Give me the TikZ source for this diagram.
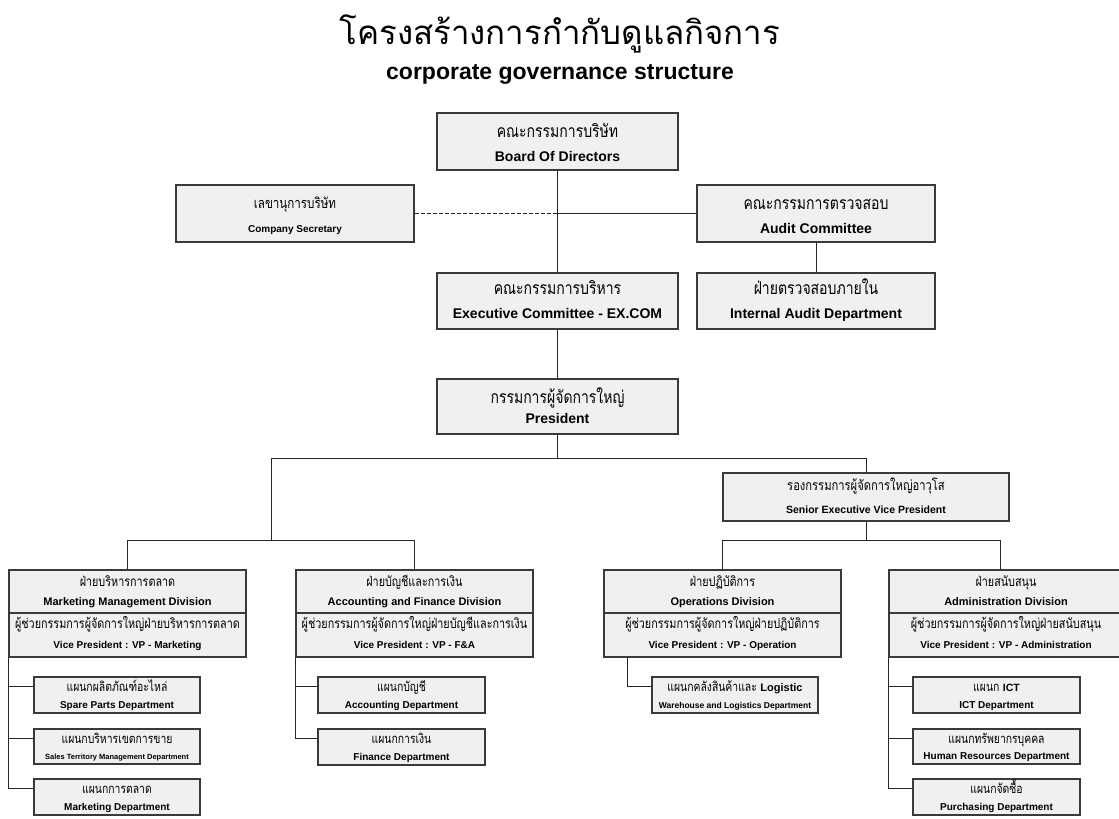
\documentclass[tikz,border=0pt]{standalone}
\usepackage{fontspec}
\setmainfont{Liberation Sans}
\newfontfamily\thaifont[Script=Thai,FakeStretch=0.8]{Loma}
\newfontfamily\thaititle[Script=Thai]{Loma}
\usetikzlibrary{calc}
\definecolor{boxfill}{HTML}{F0F0F0}
\definecolor{boxline}{HTML}{3A3A3A}
\newcommand\thx[1]{\thaifont\fontsize{#1}{#1}\selectfont}
\newcommand\enx[1]{\normalfont\bfseries\fontsize{#1}{#1}\selectfont}
% box text: node name, thai baseline offset, thai text, english baseline offset, english text
\newcommand\boxtext[5]{%
  \node[anchor=base, inner sep=0pt] (#1-th) at ($(#1.center)+(0,#2)$) {#3};
  \node[anchor=base, inner sep=0pt] (#1-en) at ($(#1.center)+(0,#4)$) {#5};}
\tikzset{
  orgbox/.style={draw=boxline, fill=boxfill, line width=1.4pt, inner sep=0pt, anchor=center},
  link/.style={draw=black!85, line width=1pt},
}
\begin{document}
\begin{tikzpicture}[x=1pt,y=-1pt]
\useasboundingbox (0,0) rectangle (1119,819);
% titles
\node[anchor=base, inner sep=0pt] (t1) at (560,44) {\thaititle\fontsize{33}{33}\selectfont โครงสร้างการกำกับดูแลกิจการ};
\node[anchor=base, inner sep=0pt] (t2) at (560,79) {\enx{23}corporate governance structure};
% top level
\node[orgbox, minimum width=241, minimum height=57] (board) at (557.5,141.5) {};
\boxtext{board}{-4.5}{\thx{17.5}คณะกรรมการบริษัท}{19.5}{\enx{14}Board Of Directors}
\node[orgbox, minimum width=238, minimum height=57] (sec) at (295,213.5) {};
\boxtext{sec}{-5}{\thx{14.5}เลขานุการบริษัท}{18.5}{\enx{10}Company Secretary}
\node[orgbox, minimum width=238, minimum height=57] (audit) at (816,213.5) {};
\boxtext{audit}{-4.5}{\thx{17.5}คณะกรรมการตรวจสอบ}{19.5}{\enx{14}Audit Committee}
\node[orgbox, minimum width=241, minimum height=56] (exec) at (557.5,301) {};
\boxtext{exec}{-7}{\thx{17.5}คณะกรรมการบริหาร}{17.5}{\enx{14}Executive Committee - EX.COM}
\node[orgbox, minimum width=238, minimum height=56] (ia) at (816,301) {};
\boxtext{ia}{-7}{\thx{17.5}ฝ่ายตรวจสอบภายใน}{17.5}{\enx{14}Internal Audit Department}
\node[orgbox, minimum width=241, minimum height=55] (pres) at (557.5,406.5) {};
\boxtext{pres}{-3}{\thx{17.5}กรรมการผู้จัดการใหญ่}{17}{\enx{14}President}
\node[orgbox, minimum width=286, minimum height=48] (sevp) at (866,497) {};
\boxtext{sevp}{-7}{\thx{14}รองกรรมการผู้จัดการใหญ่อาวุโส}{16}{\enx{10.5}Senior Executive Vice President}
% divisions
\node[orgbox, minimum width=237, minimum height=43] (mkt) at (127.5,591.5) {};
\boxtext{mkt}{-5.5}{\thx{13.5}ฝ่ายบริหารการตลาด}{13.5}{\enx{11}Marketing Management Division}
\node[orgbox, minimum width=237, minimum height=44] (mktvp) at (127.5,635) {};
\boxtext{mktvp}{-7}{\thx{13.5}ผู้ช่วยกรรมการผู้จัดการใหญ่ฝ่ายบริหารการตลาด}{13}{\enx{10}Vice President : VP - Marketing}
\node[orgbox, minimum width=237, minimum height=43] (acc) at (414.5,591.5) {};
\boxtext{acc}{-5.5}{\thx{13.5}ฝ่ายบัญชีและการเงิน}{13.5}{\enx{11}Accounting and Finance Division}
\node[orgbox, minimum width=237, minimum height=44] (accvp) at (414.5,635) {};
\boxtext{accvp}{-7}{\thx{13.5}ผู้ช่วยกรรมการผู้จัดการใหญ่ฝ่ายบัญชีและการเงิน}{13}{\enx{10}Vice President : VP - F\&A}
\node[orgbox, minimum width=237, minimum height=43] (ops) at (722.5,591.5) {};
\boxtext{ops}{-5.5}{\thx{13.5}ฝ่ายปฏิบัติการ}{13.5}{\enx{11}Operations Division}
\node[orgbox, minimum width=237, minimum height=44] (opsvp) at (722.5,635) {};
\boxtext{opsvp}{-7}{\thx{13.5}ผู้ช่วยกรรมการผู้จัดการใหญ่ฝ่ายปฏิบัติการ}{13}{\enx{10}Vice President : VP - Operation}
\node[orgbox, minimum width=234, minimum height=43] (adm) at (1006,591.5) {};
\boxtext{adm}{-5.5}{\thx{13.5}ฝ่ายสนับสนุน}{13.5}{\enx{11}Administration Division}
\node[orgbox, minimum width=234, minimum height=44] (admvp) at (1006,635) {};
\boxtext{admvp}{-7}{\thx{13.5}ผู้ช่วยกรรมการผู้จัดการใหญ่ฝ่ายสนับสนุน}{13}{\enx{10}Vice President : VP - Administration}
% departments
\node[orgbox, minimum width=166, minimum height=36] (spare) at (117,695) {};
\boxtext{spare}{-4}{\thx{13}แผนกผลิตภัณฑ์อะไหล่}{13}{\enx{10}Spare Parts Department}
\node[orgbox, minimum width=166, minimum height=35] (sales) at (117,746.5) {};
\boxtext{sales}{-3}{\thx{13}แผนกบริหารเขตการขาย}{13}{\enx{7.5}Sales Territory Management Department}
\node[orgbox, minimum width=166, minimum height=36] (mkd) at (117,797) {};
\boxtext{mkd}{-4}{\thx{13}แผนกการตลาด}{13}{\enx{10}Marketing Department}
\node[orgbox, minimum width=167, minimum height=36] (accd) at (401.5,695) {};
\boxtext{accd}{-4}{\thx{13}แผนกบัญชี}{13}{\enx{10}Accounting Department}
\node[orgbox, minimum width=167, minimum height=36] (fin) at (401.5,747) {};
\boxtext{fin}{-4}{\thx{13}แผนกการเงิน}{13}{\enx{10}Finance Department}
\node[orgbox, minimum width=166, minimum height=36] (wh) at (735,695) {};
\boxtext{wh}{-4}{\thx{13}แผนกคลังสินค้าและ \enx{11}Logistic}{13}{\enx{8.5}Warehouse and Logistics Department}
\node[orgbox, minimum width=167, minimum height=36] (ict) at (996.5,695) {};
\boxtext{ict}{-4}{\thx{13}แผนก \enx{10.5}ICT}{13}{\enx{10}ICT Department}
\node[orgbox, minimum width=167, minimum height=35] (hr) at (996.5,746.5) {};
\boxtext{hr}{-3}{\thx{13}แผนกทรัพยากรบุคคล}{13}{\enx{10}Human Resources Department}
\node[orgbox, minimum width=167, minimum height=36] (pur) at (996.5,797) {};
\boxtext{pur}{-4}{\thx{13}แผนกจัดซื้อ}{13}{\enx{10}Purchasing Department}
% connectors
\coordinate (j1) at (board.south |- sec.east);
\draw[link] (board.south) -- (exec.north);
\draw[link, dash pattern=on 4pt off 2pt] (sec.east) -- (j1);
\draw[link] (j1) -- (audit.west);
\draw[link] (audit.south) -- (ia.north);
\draw[link] (exec.south) -- (pres.north);
\coordinate (bl) at (271,458);
\coordinate (br) at (sevp.north |- bl);
\draw[link] (pres.south) -- (pres.south |- bl);
\draw[link] (sevp.north) -- (br) -- (bl) -- (271,540);
\coordinate (ll) at (mkt.north |- 0,540);
\coordinate (lr) at (acc.north |- 0,540);
\draw[link] (mkt.north) -- (ll) -- (lr) -- (acc.north);
\coordinate (rj) at (sevp.south |- 0,540);
\coordinate (rl) at (ops.north |- 0,540);
\coordinate (rr) at (1000,540);
\draw[link] (sevp.south) -- (rj);
\draw[link] (ops.north) -- (rl) -- (rr) -- (rr |- adm.north);
% department links
\draw[link] (mktvp.south west) |- ($(spare.north west)+(0,10)$);
\draw[link] (mktvp.south west) |- ($(sales.north west)+(0,10)$);
\draw[link] (mktvp.south west) |- ($(mkd.north west)+(0,10)$);
\draw[link] (accvp.south west) |- ($(accd.north west)+(0,10)$);
\draw[link] (accvp.south west) |- ($(fin.north west)+(0,10)$);
\coordinate (ob) at ($(opsvp.south west)+(24,0)$);
\draw[link] (ob) |- ($(wh.north west)+(0,10)$);
\draw[link] (admvp.south west) |- ($(ict.north west)+(0,10)$);
\draw[link] (admvp.south west) |- ($(hr.north west)+(0,10)$);
\draw[link] (admvp.south west) |- ($(pur.north west)+(0,10)$);
\end{tikzpicture}
\end{document}
